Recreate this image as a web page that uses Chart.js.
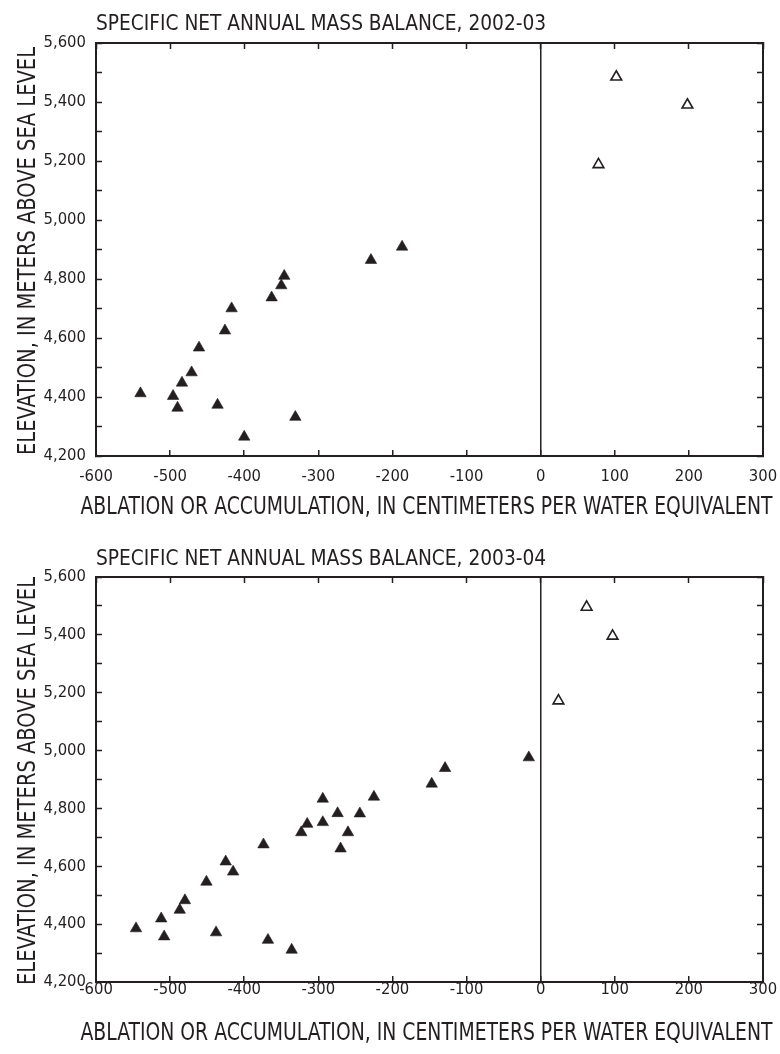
<!DOCTYPE html>
<html><head><meta charset="utf-8">
<script src="https://cdn.jsdelivr.net/npm/chart.js@4.4.1/dist/chart.umd.min.js"></script>
<style>
html,body{margin:0;padding:0;background:#fff;}
#w1{position:absolute;left:0;top:0;width:780px;height:520px;}
#w2{position:absolute;left:0;top:520px;width:780px;height:534px;}
</style></head><body>
<div id="w1"><canvas id="c1"></canvas></div>
<div id="w2"><canvas id="c2"></canvas></div>
<script>
// ---- data ----
const titles = ['SPECIFIC NET ANNUAL MASS BALANCE, 2002-03', 'SPECIFIC NET ANNUAL MASS BALANCE, 2003-04'];
const xAxisTitle = 'ABLATION OR ACCUMULATION, IN CENTIMETERS PER WATER EQUIVALENT';
const yAxisTitle = 'ELEVATION, IN METERS ABOVE SEA LEVEL';
const xTickValues = [-600, -500, -400, -300, -200, -100, 0, 100, 200, 300];
const yTickValues = [4200, 4400, 4600, 4800, 5000, 5200, 5400, 5600];

// 2002-03 ablation (filled triangles)
const abl0203X = [-540, -496, -490, -484, -471, -461, -426, -417, -436, -400, -363, -350, -346, -331, -229, -187];
const abl0203Y = [4412, 4403, 4363, 4448, 4483, 4567, 4625, 4700, 4373, 4265, 4737, 4778, 4810, 4332, 4864, 4909];
// 2002-03 accumulation (open triangles)
const acc0203X = [102, 198, 78];
const acc0203Y = [5485, 5390, 5188];

// 2003-04 ablation (filled triangles)
const abl0304X = [-546, -512, -508, -487, -480, -451, -438, -425, -415, -374, -368, -336, -323, -315, -294, -294, -274, -270, -260, -244, -225, -147, -129, -16];
const abl0304Y = [4385, 4419, 4357, 4449, 4482, 4546, 4371, 4616, 4581, 4675, 4345, 4311, 4717, 4746, 4833, 4752, 4783, 4661, 4717, 4782, 4840, 4885, 4939, 4976];
// 2003-04 accumulation (open triangles)
const acc0304X = [62, 97, 24];
const acc0304Y = [5496, 5396, 5172];

// ---- style ----
const FONT = "'Liberation Sans Narrow', 'Arial Narrow', 'DejaVu Sans Condensed', 'Roboto Condensed', sans-serif";
const INK = '#231f20';

function pts(xs, ys) { return xs.map((x, i) => ({x: x, y: ys[i]})); }

// panel title, x-axis title and y-axis title (condensed like the original lettering)
const textPlugin = {
  id: 'panelText',
  afterDraw(chart, args, opts) {
    const ctx = chart.ctx;
    const area = chart.chartArea;
    ctx.save();
    ctx.fillStyle = INK;
    ctx.textBaseline = 'alphabetic';
    ctx.font = opts.titleSize + 'px ' + FONT;
    ctx.textAlign = 'left';
    ctx.fillText(opts.title, area.left, opts.titleBaseline);
    ctx.font = opts.axisTitleSize + 'px ' + FONT;
    ctx.textAlign = 'center';
    ctx.fillText(opts.xTitle, (area.left + area.right) / 2 - 3, opts.xTitleBaseline, 692);
    ctx.translate(35, (area.top + area.bottom) / 2 + 1.5);
    ctx.rotate(-Math.PI / 2);
    ctx.fillText(opts.yTitle, 0, 0, 408);
    ctx.restore();
  }
};

function makeChart(id, cfg) {
  const xMin = xTickValues[0], xMax = xTickValues[xTickValues.length - 1];
  const yMin = yTickValues[0], yMax = yTickValues[yTickValues.length - 1];
  const gridCommon = {
    drawOnChartArea: false, drawTicks: true, tickLength: -6,
    tickColor: INK, tickWidth: 1.5
  };
  const borderCommon = {display: true, color: INK, width: 2};
  return new Chart(document.getElementById(id), {
    type: 'scatter',
    data: {
      datasets: [
        {data: pts(cfg.ablX, cfg.ablY), pointStyle: 'triangle', pointRadius: 6.6,
         backgroundColor: INK, borderColor: INK, borderWidth: 0.6, showLine: false},
        {data: pts(cfg.accX, cfg.accY), pointStyle: 'triangle', pointRadius: 6.2,
         backgroundColor: '#fff', borderColor: INK, borderWidth: 1.6, showLine: false}
      ]
    },
    plugins: [textPlugin],
    options: {
      responsive: true, maintainAspectRatio: false, animation: false,
      layout: {padding: {top: cfg.padTop, right: 17, left: 0, bottom: 0}},
      plugins: {
        legend: {display: false}, tooltip: {enabled: false},
        panelText: {title: cfg.title, titleSize: 20.7, titleBaseline: cfg.titleBaseline,
                    axisTitleSize: 24, xTitle: xAxisTitle, xTitleBaseline: cfg.xTitleBaseline,
                    yTitle: yAxisTitle}
      },
      scales: {
        x: {
          type: 'linear', position: 'bottom', min: xMin, max: xMax,
          afterFit: s => { s.height = cfg.xHeight; s.paddingLeft = 0; s.paddingRight = 0; },
          ticks: {stepSize: 100, maxTicksLimit: 100, autoSkip: false, maxRotation: 0,
                  padding: cfg.xTickPad, color: INK, font: {family: FONT, size: 16.5},
                  callback: v => String(v)},
          grid: {drawOnChartArea: true, drawTicks: true, tickLength: -6,
                 color: c => (c.tick && c.tick.value === 0) ? INK : 'rgba(0,0,0,0)',
                 lineWidth: 1.5, tickColor: INK, tickWidth: 1.5},
          border: borderCommon,
          title: {display: false}
        },
        x2: {
          type: 'linear', axis: 'x', position: 'top', min: xMin, max: xMax,
          afterFit: s => { s.height = 0; s.paddingLeft = 0; s.paddingRight = 0; },
          ticks: {display: false, stepSize: 100, maxTicksLimit: 100},
          grid: gridCommon, border: borderCommon
        },
        y: {
          type: 'linear', position: 'left', min: yMin, max: yMax,
          afterFit: s => { s.width = 96; s.paddingTop = 0; s.paddingBottom = 0; },
          ticks: {stepSize: 100, maxTicksLimit: 100, autoSkip: false, padding: 16,
                  color: INK, font: {family: FONT, size: 16.5},
                  callback: v => (yTickValues.includes(v) ? v.toLocaleString('en-US') : '')},
          grid: gridCommon, border: borderCommon,
          title: {display: false}
        },
        y2: {
          type: 'linear', axis: 'y', position: 'right', min: yMin, max: yMax,
          afterFit: s => { s.width = 0; s.paddingTop = 0; s.paddingBottom = 0; },
          ticks: {display: false, stepSize: 100, maxTicksLimit: 100},
          grid: gridCommon, border: borderCommon
        }
      }
    }
  });
}

makeChart('c1', {
  title: titles[0], titleBaseline: 30, xTitleBaseline: 514,
  ablX: abl0203X, ablY: abl0203Y, accX: acc0203X, accY: acc0203Y,
  padTop: 43, xHeight: 64, xTickPad: 17
});
makeChart('c2', {
  title: titles[1], titleBaseline: 45, xTitleBaseline: 520,
  ablX: abl0304X, ablY: abl0304Y, accX: acc0304X, accY: acc0304Y,
  padTop: 57, xHeight: 72, xTickPad: 4
});
</script>
</body></html>
